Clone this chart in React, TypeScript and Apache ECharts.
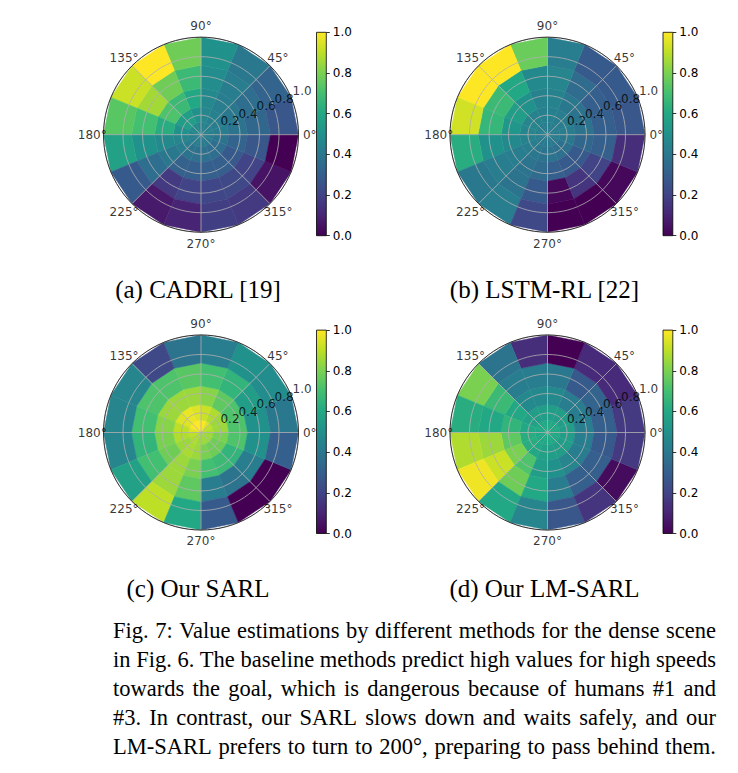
import React, { useEffect, useRef } from 'react';
import * as echarts from 'echarts';

// ---- bins ----
const ANGLE_EDGES = [0, 22.5, 45, 67.5, 90, 112.5, 135, 157.5, 180, 202.5, 225, 247.5, 270, 292.5, 315, 337.5, 360];
const SPEED_EDGES = [0, 0.129, 0.286, 0.478, 0.713, 1.0];
const ANGLE_TICKS = [0, 45, 90, 135, 180, 225, 270, 315];
const RADIUS_TICKS = [0.2, 0.4, 0.6, 0.8, 1.0];

const VIRIDIS = ['#440154', '#482475', '#414487', '#355f8d', '#2a788e', '#21918c', '#22a884', '#43bf71', '#7ad151', '#bddf26', '#fde725'];

// ---- values: one row per 22.5° sector (starting at 0°), 5 speed rings inner -> outer ----
const CADRL = [
  [0.43, 0.42, 0.38, 0.33, 0.27],
  [0.43, 0.42, 0.4, 0.36, 0.32],
  [0.43, 0.43, 0.42, 0.42, 0.4],
  [0.44, 0.45, 0.47, 0.48, 0.5],
  [0.45, 0.5, 0.6, 0.68, 0.78],
  [0.47, 0.55, 0.68, 0.78, 1.0],
  [0.47, 0.55, 0.72, 0.86, 0.92],
  [0.45, 0.5, 0.62, 0.7, 0.74],
  [0.43, 0.45, 0.47, 0.5, 0.57],
  [0.42, 0.42, 0.4, 0.36, 0.28],
  [0.42, 0.38, 0.31, 0.17, 0.07],
  [0.42, 0.37, 0.3, 0.2, 0.1],
  [0.41, 0.37, 0.3, 0.21, 0.18],
  [0.41, 0.36, 0.3, 0.22, 0.17],
  [0.41, 0.36, 0.28, 0.2, 0.05],
  [0.42, 0.38, 0.32, 0.27, 0.0],
];

const LSTM_RL = [
  [0.42, 0.42, 0.38, 0.3, 0.27],
  [0.42, 0.42, 0.38, 0.3, 0.28],
  [0.42, 0.42, 0.4, 0.35, 0.28],
  [0.42, 0.43, 0.44, 0.45, 0.42],
  [0.42, 0.43, 0.44, 0.47, 0.77],
  [0.42, 0.44, 0.5, 0.6, 1.0],
  [0.43, 0.45, 0.55, 0.68, 1.0],
  [0.43, 0.45, 0.52, 0.66, 0.93],
  [0.42, 0.44, 0.47, 0.5, 0.62],
  [0.42, 0.42, 0.42, 0.42, 0.4],
  [0.41, 0.4, 0.38, 0.38, 0.42],
  [0.41, 0.38, 0.35, 0.28, 0.22],
  [0.41, 0.38, 0.3, 0.02, 0.0],
  [0.41, 0.37, 0.28, 0.15, 0.0],
  [0.41, 0.37, 0.28, 0.2, 0.02],
  [0.42, 0.4, 0.33, 0.3, 0.13],
];

const SARL = [
  [0.88, 0.85, 0.72, 0.5, 0.4],
  [0.9, 0.85, 0.72, 0.55, 0.48],
  [0.95, 0.88, 0.75, 0.65, 0.5],
  [1.0, 0.92, 0.82, 0.7, 0.42],
  [1.0, 0.95, 0.85, 0.74, 0.38],
  [1.0, 0.97, 0.85, 0.72, 0.22],
  [1.0, 0.95, 0.85, 0.72, 0.45],
  [0.95, 0.9, 0.82, 0.7, 0.45],
  [0.9, 0.88, 0.8, 0.65, 0.45],
  [0.88, 0.85, 0.78, 0.7, 0.57],
  [0.88, 0.87, 0.85, 0.85, 0.9],
  [0.85, 0.85, 0.8, 0.75, 0.6],
  [0.85, 0.8, 0.7, 0.42, 0.28],
  [0.85, 0.78, 0.68, 0.38, 0.0],
  [0.85, 0.78, 0.65, 0.42, 0.0],
  [0.85, 0.8, 0.72, 0.5, 0.3],
];

const LM_SARL = [
  [0.6, 0.55, 0.42, 0.3, 0.17],
  [0.6, 0.55, 0.42, 0.32, 0.12],
  [0.6, 0.55, 0.42, 0.28, 0.12],
  [0.6, 0.55, 0.47, 0.4, 0.0],
  [0.6, 0.55, 0.47, 0.42, 0.13],
  [0.6, 0.55, 0.47, 0.42, 0.38],
  [0.6, 0.57, 0.6, 0.68, 0.8],
  [0.6, 0.6, 0.65, 0.6, 0.62],
  [0.6, 0.62, 0.75, 0.85, 0.88],
  [0.6, 0.62, 0.8, 0.92, 0.98],
  [0.6, 0.6, 0.72, 0.78, 0.6],
  [0.6, 0.57, 0.55, 0.6, 0.45],
  [0.6, 0.55, 0.5, 0.42, 0.27],
  [0.6, 0.55, 0.45, 0.3, 0.15],
  [0.6, 0.55, 0.42, 0.3, 0.03],
  [0.6, 0.55, 0.42, 0.28, 0.17],
];

const PANEL_VALUES = [CADRL, LSTM_RL, SARL, LM_SARL];
const SUBCAPTIONS = ['(a) CADRL [19]', '(b) LSTM-RL [22]', '(c) Our SARL', '(d) Our LM-SARL'];
const CAPTION_LINES = [
  'Fig. 7: Value estimations by different methods for the dense scene',
  'in Fig. 6. The baseline methods predict high values for high speeds',
  'towards the goal, which is dangerous because of humans #1 and',
  '#3. In contrast, our SARL slows down and waits safely, and our',
  'LM-SARL prefers to turn to 200°, preparing to pass behind them.',
];

// ---- layout ----
const CENTERS = [
  [201, 134.7],
  [547.5, 134.7],
  [201, 432.5],
  [547.5, 432.5],
];
const RADIUS = 97.5;
const ANGLE_LABEL_RADIUS = 108.8;
const TICK_FONT = 'DejaVu Sans';
const TICK_SIZE = 12;
const GRID_COLOR = '#b0b0b0';

function buildOption() {
  const polar: any[] = [];
  const angleAxis: any[] = [];
  const radiusAxis: any[] = [];
  const grid: any[] = [];
  const xAxis: any[] = [];
  const yAxis: any[] = [];
  const cells: any[] = [];
  const labelSeries: any[] = [];
  const barSeries: any[] = [];
  const n = PANEL_VALUES.length;

  PANEL_VALUES.forEach((vals, i) => {
    const [cx, cy] = CENTERS[i];
    polar[i] = { center: [cx, cy], radius: RADIUS };
    // helper polar (same centre) used only to place the angular tick labels outside the rim
    polar[n + i] = { center: [cx, cy], radius: ANGLE_LABEL_RADIUS };

    angleAxis[i] = {
      polarIndex: i,
      type: 'value',
      min: 0,
      max: 360,
      interval: 45,
      startAngle: 0,
      clockwise: false,
      z: 11,
      axisLine: { show: true, lineStyle: { color: '#222', width: 0.9 } },
      axisTick: { show: false },
      axisLabel: { show: false },
      splitLine: { show: true, lineStyle: { color: GRID_COLOR, width: 0.8 } },
    };
    radiusAxis[i] = {
      polarIndex: i,
      type: 'value',
      min: 0,
      max: 1,
      interval: 0.2,
      z: 10,
      axisLine: { show: false },
      axisTick: { show: false },
      axisLabel: { show: false },
      splitLine: { show: true, lineStyle: { color: GRID_COLOR, width: 0.8 } },
    };
    angleAxis[n + i] = {
      polarIndex: n + i,
      type: 'value',
      min: 0,
      max: 360,
      startAngle: 0,
      clockwise: false,
      show: false,
    };
    radiusAxis[n + i] = { polarIndex: n + i, type: 'value', min: 0, max: 1, show: false };

    const data: number[][] = [];
    vals.forEach((row, s) => {
      row.forEach((v, k) => {
        data.push([SPEED_EDGES[k], SPEED_EDGES[k + 1], ANGLE_EDGES[s], ANGLE_EDGES[s + 1], v]);
      });
    });
    cells.push({
      type: 'custom',
      coordinateSystem: 'polar',
      polarIndex: i,
      z: 2,
      silent: true,
      data,
      renderItem: (params: any, api: any) => {
        const r0 = api.value(0);
        const r1 = api.value(1);
        const a0 = api.value(2);
        const a1 = api.value(3);
        const pts = [api.coord([r0, a0]), api.coord([r1, a0]), api.coord([r1, a1]), api.coord([r0, a1])];
        const c = api.visual('color');
        return {
          type: 'polygon',
          shape: { points: pts },
          style: { fill: c, stroke: c, lineWidth: 0.5 },
        };
      },
    });

    // radial tick labels along 22.5°
    labelSeries.push({
      type: 'scatter',
      coordinateSystem: 'polar',
      polarIndex: i,
      z: 12,
      silent: true,
      symbolSize: 0,
      data: RADIUS_TICKS.map((r) => [r, 22.5]),
      label: {
        show: true,
        position: 'inside',
        offset: [11, -6],
        formatter: (p: any) => p.value[0].toFixed(1),
        fontFamily: TICK_FONT,
        fontSize: TICK_SIZE,
        color: '#000',
      },
    });
    // angular tick labels
    labelSeries.push({
      type: 'scatter',
      coordinateSystem: 'polar',
      polarIndex: n + i,
      z: 12,
      silent: true,
      symbolSize: 0,
      data: ANGLE_TICKS.map((a) => [1, a]),
      label: {
        show: true,
        position: 'inside',
        formatter: (p: any) => p.value[1] + '°',
        fontFamily: TICK_FONT,
        fontSize: TICK_SIZE,
        color: '#000',
      },
    });

    // colorbar
    grid.push({
      left: cx + 115.5,
      top: cy - 102.4,
      width: 9.8,
      height: 203.4,
      show: true,
      borderColor: '#000',
      borderWidth: 0.8,
      backgroundColor: 'transparent',
      z: 5,
    });
    xAxis.push({ gridIndex: i, type: 'category', data: [''], show: false });
    yAxis.push({
      gridIndex: i,
      type: 'value',
      min: 0,
      max: 1,
      interval: 0.2,
      position: 'right',
      axisLine: { show: false },
      axisTick: { show: true, length: 3.5, lineStyle: { color: '#000', width: 0.8 } },
      axisLabel: {
        formatter: (v: number) => v.toFixed(1),
        margin: 6.5,
        fontFamily: TICK_FONT,
        fontSize: TICK_SIZE,
        color: '#000',
      },
      splitLine: { show: false },
    });
    barSeries.push({
      type: 'bar',
      xAxisIndex: i,
      yAxisIndex: i,
      silent: true,
      barWidth: '100%',
      data: [1],
      z: 1,
      itemStyle: {
        color: new echarts.graphic.LinearGradient(
          0, 1, 0, 0,
          VIRIDIS.map((c, j) => ({ offset: j / (VIRIDIS.length - 1), color: c }))
        ),
      },
    });
  });

  const graphic = SUBCAPTIONS.map((t, i) => ({
    type: 'text',
    x: CENTERS[i][0] - 3,
    y: i < 2 ? 289 : 588,
    silent: true,
    style: {
      text: t,
      font: '25px "Liberation Serif"',
      fill: '#000',
      align: 'center',
      verticalAlign: 'middle',
      textAlign: 'center',
      textVerticalAlign: 'middle',
    },
  }));

  return {
    animation: false,
    backgroundColor: '#fff',
    polar,
    angleAxis,
    radiusAxis,
    grid,
    xAxis,
    yAxis,
    visualMap: {
      type: 'continuous',
      show: false,
      min: 0,
      max: 1,
      dimension: 4,
      seriesIndex: [0, 1, 2, 3],
      inRange: { color: VIRIDIS },
    },
    series: [...cells, ...labelSeries, ...barSeries],
    graphic,
  };
}

export default function App() {
  const ref = useRef<HTMLDivElement>(null);
  useEffect(() => {
    if (!ref.current) return;
    const chart = echarts.init(ref.current, undefined, { renderer: 'svg' });
    chart.setOption(buildOption() as any);
    return () => chart.dispose();
  }, []);
  return (
    <div style={{ position: 'absolute', left: 0, top: 0, width: 738, height: 773, background: '#fff', overflow: 'hidden' }}>
      <div ref={ref} style={{ position: 'absolute', left: 0, top: 0, width: 738, height: 610 }} />
      <div
        style={{
          position: 'absolute',
          left: 113,
          top: 616,
          width: 603,
          fontFamily: '"Liberation Serif", "Times New Roman", serif',
          fontSize: 22.5,
          lineHeight: '29px',
          color: '#000',
        }}
      >
        {CAPTION_LINES.map((l, i) => (
          <div key={i} style={{ display: 'flex', justifyContent: 'space-between', whiteSpace: 'nowrap' }}>
            {l.split(' ').map((w, j) => (
              <span key={j}>{w}</span>
            ))}
          </div>
        ))}
      </div>
    </div>
  );
}
